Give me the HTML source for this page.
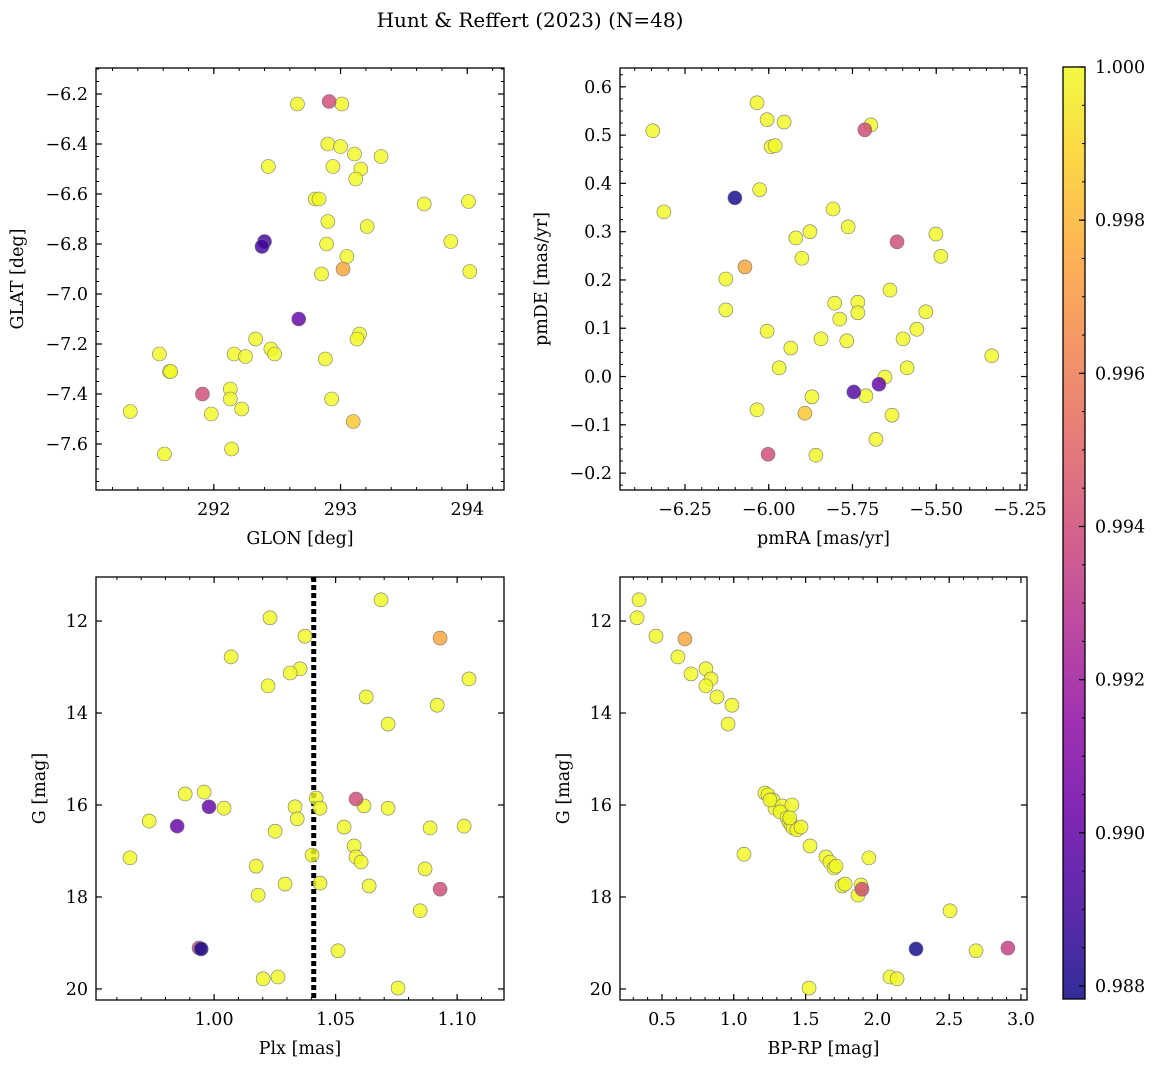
<!DOCTYPE html>
<html><head><meta charset="utf-8"><style>
body{margin:0;background:#fff;}
svg text{font-family:"DejaVu Serif","Liberation Serif",serif;fill:#000;}
</style></head><body>
<svg id="fig" width="1161" height="1067" xmlns="http://www.w3.org/2000/svg">
<text x="530" y="27" font-size="20" text-anchor="middle">Hunt &amp; Reffert (2023) (N=48)</text>
</svg>
<script>
// Panel 1: GLON / GLAT
const p1Glon=[292.66,292.91,293.01,292.90,293.00,293.11,293.32,292.43,292.94,293.16,293.12,292.80,292.83,293.66,294.01,292.90,293.21,292.40,292.38,292.89,293.87,293.05,292.85,293.02,294.02,292.67,292.33,293.15,293.13,291.57,292.16,292.45,292.25,292.48,292.88,291.65,291.66,292.13,291.91,292.13,292.93,291.98,292.22,291.34,293.10,292.14,291.61];
const p1Glat=[-6.24,-6.23,-6.24,-6.40,-6.41,-6.44,-6.45,-6.49,-6.49,-6.50,-6.54,-6.62,-6.62,-6.64,-6.63,-6.71,-6.73,-6.79,-6.81,-6.80,-6.79,-6.85,-6.92,-6.90,-6.91,-7.10,-7.18,-7.16,-7.18,-7.24,-7.24,-7.22,-7.25,-7.24,-7.26,-7.31,-7.31,-7.38,-7.40,-7.42,-7.42,-7.48,-7.46,-7.47,-7.51,-7.62,-7.64];
const p1Prob=[1,0.994,1,1,1,1,1,1,1,1,1,1,1,1,1,1,1,0.989,0.989,1,1,1,1,0.9975,1,0.990,1,1,1,1,1,1,1,1,1,1,1,1,0.994,1,1,1,1,1,0.9985,1,1];
// Panel 2: pmRA / pmDE
const p2Pmra=[-6.346,-6.313,-6.035,-6.005,-5.954,-5.993,-5.981,-5.713,-5.695,-6.101,-6.027,-5.808,-5.763,-5.877,-5.919,-5.501,-5.617,-5.901,-5.486,-6.071,-6.128,-5.638,-5.803,-5.734,-6.128,-5.531,-5.734,-5.788,-5.558,-6.005,-5.844,-5.767,-5.599,-5.934,-5.587,-5.969,-5.653,-5.671,-5.746,-5.710,-5.871,-6.035,-5.632,-5.892,-5.680,-5.859,-6.002,-5.334];
const p2Pmde=[0.509,0.341,0.567,0.532,0.527,0.476,0.478,0.511,0.521,0.370,0.387,0.347,0.310,0.300,0.287,0.295,0.279,0.245,0.249,0.227,0.202,0.179,0.152,0.154,0.138,0.134,0.132,0.119,0.098,0.094,0.078,0.074,0.078,0.059,0.018,0.018,-0.001,-0.016,-0.032,-0.040,-0.042,-0.069,-0.080,-0.076,-0.130,-0.163,-0.161,0.043];
const p2Prob=[1,1,1,1,1,1,1,0.994,1,0.988,1,1,1,1,1,1,0.994,1,1,0.9975,1,1,1,1,1,1,1,1,1,1,1,1,1,1,1,1,1,0.990,0.9895,1,1,1,1,0.9985,1,1,0.994,1];
// Panel 3: Plx / G
const p3Plx=[1.0687,1.0230,1.0930,1.0374,1.0070,1.1049,1.0354,1.0313,1.0222,1.0626,1.0918,1.0716,0.9881,0.9959,1.0420,1.0584,0.9979,1.0041,1.0333,1.0436,1.0617,1.0716,0.9733,1.0342,0.9848,1.0251,1.0535,1.0889,1.1029,1.0576,1.0584,1.0605,1.0403,0.9654,1.0173,1.0868,1.0638,1.0292,1.0436,1.0930,1.0181,1.0848,0.9938,0.9947,1.0510,1.0202,1.0263,1.0757];
const p3G=[11.54,11.93,12.37,12.33,12.78,13.26,13.04,13.13,13.41,13.65,13.83,14.24,15.76,15.72,15.85,15.87,16.04,16.07,16.04,16.07,16.02,16.07,16.35,16.30,16.46,16.57,16.48,16.50,16.46,16.89,17.13,17.24,17.09,17.15,17.33,17.39,17.76,17.72,17.70,17.83,17.96,18.30,19.11,19.13,19.17,19.78,19.74,19.98];
const p3Prob=[1,1,0.9975,1,1,1,1,1,1,1,1,1,1,1,1,0.994,0.990,1,1,1,1,1,1,1,0.990,1,1,1,1,1,1,1,1,1,1,1,1,1,1,0.994,1,1,0.9935,0.988,1,1,1,1];
const plxLine=1.041;
// Panel 4: BP-RP / G
const p4Color=[0.340,0.326,0.458,0.660,0.611,0.702,0.806,0.841,0.806,0.883,0.987,0.960,1.071,1.217,1.238,1.273,1.287,1.336,1.405,1.322,1.371,1.385,1.399,1.413,1.440,1.468,1.531,1.642,1.670,1.698,1.712,1.754,1.775,1.893,1.865,1.886,1.941,2.506,2.687,2.909,2.269,2.088,2.137,1.524,1.252,1.390];
const p4G=[11.54,11.93,12.33,12.39,12.78,13.15,13.04,13.26,13.41,13.65,13.83,14.24,17.07,15.74,15.78,15.89,16.07,16.02,16.00,16.15,16.28,16.37,16.43,16.50,16.54,16.48,16.89,17.13,17.24,17.37,17.33,17.76,17.72,17.83,17.96,17.74,17.15,18.30,19.17,19.11,19.13,19.74,19.78,19.98,15.89,16.28];
const p4Prob=[1,1,1,0.9975,1,1,1,1,1,1,1,1,1,1,1,1,1,1,1,1,1,1,1,1,1,1,1,1,1,1,1,1,1,0.994,1,1,1,1,1,0.9935,0.988,1,1,1,1,1];
// tick labels
const t1x=[292,293,294], t1y=[-6.2,-6.4,-6.6,-6.8,-7.0,-7.2,-7.4,-7.6];
const t2x=[-6.25,-6.00,-5.75,-5.50,-5.25], t2y=[0.6,0.5,0.4,0.3,0.2,0.1,0.0,-0.1,-0.2];
const t3x=[1.00,1.05,1.10], tG=[12,14,16,18,20];
const t4x=[0.5,1.0,1.5,2.0,2.5,3.0];
const tCb=[0.988,0.990,0.992,0.994,0.996,0.998,1.000];

const NS="http://www.w3.org/2000/svg";
const svg=document.getElementById('fig');
const FS=17.5;
function mk(tag,attrs,parent){const e=document.createElementNS(NS,tag);for(const k in attrs)e.setAttribute(k,attrs[k]);(parent||svg).appendChild(e);return e;}
const VMIN=0.98783,VMAX=1.0;
const stops=[[13,8,135],[65,4,157],[106,0,168],[143,13,164],[177,42,144],[204,71,120],[225,100,98],[242,132,75],[252,166,54],[252,206,37],[240,249,33]];
function plasma(t){t=Math.max(0,Math.min(1,t));const f=t*10,i=Math.min(9,Math.floor(f)),r=f-i;const a=stops[i],b=stops[i+1];return 'rgb('+a.map((v,k)=>Math.round(v+(b[k]-v)*r)).join(',')+')';}
function cmap(p){return plasma((p-VMIN)/(VMAX-VMIN));}

function panel(o){
  const g=mk('g',{});
  
  
  const sx=v=>o.L+(v-o.x0)/(o.x1-o.x0)*(o.R-o.L);
  const sy=v=>o.B-(v-o.y0)/(o.y1-o.y0)*(o.B-o.T);
  if(o.vline!==undefined){const l=mk('line',{x1:sx(o.vline),x2:sx(o.vline),y1:o.T,y2:o.B,stroke:'#000','stroke-width':5,'stroke-dasharray':'5,3'},g);
    
    }
  const ord=o.xs.map((v,i)=>i).sort((a,b)=>o.p[b]-o.p[a]);
  ord.forEach(i=>{const c=mk('circle',{cx:sx(o.xs[i]),cy:sy(o.ys[i]),r:7,fill:cmap(o.p[i]),'fill-opacity':0.82,stroke:'#777','stroke-width':0.6},g);
    
    });
  const fr=mk('rect',{x:o.L,y:o.T,width:o.R-o.L,height:o.B-o.T,fill:'none',stroke:'#000','stroke-width':1.3},g);
  
  
  const eps=1e-9;
  for(let v=Math.ceil(o.x0/o.mx-eps)*o.mx;v<=o.x1+eps;v+=o.mx){const X=sx(v);mk('line',{x1:X,x2:X,y1:o.B,y2:o.B-3,stroke:'#000'},g);mk('line',{x1:X,x2:X,y1:o.T,y2:o.T+3,stroke:'#000'},g);}
  for(let v=Math.ceil(o.y0/o.my-eps)*o.my;v<=o.y1+eps;v+=o.my){const Y=sy(v);mk('line',{x1:o.L,x2:o.L+3,y1:Y,y2:Y,stroke:'#000'},g);mk('line',{x1:o.R,x2:o.R-3,y1:Y,y2:Y,stroke:'#000'},g);}
  o.tx.forEach(v=>{const X=sx(v);mk('line',{x1:X,x2:X,y1:o.B,y2:o.B-6,stroke:'#000','stroke-width':1.2},g);mk('line',{x1:X,x2:X,y1:o.T,y2:o.T+6,stroke:'#000','stroke-width':1.2},g);
    const t=mk('text',{x:X,y:o.B+25,'font-size':FS,'text-anchor':'middle'},g);t.textContent=o.fx(v).replace('-','\u2212');
    
    });
  o.ty.forEach(v=>{const Y=sy(v);mk('line',{x1:o.L,x2:o.L+6,y1:Y,y2:Y,stroke:'#000','stroke-width':1.2},g);mk('line',{x1:o.R,x2:o.R-6,y1:Y,y2:Y,stroke:'#000','stroke-width':1.2},g);
    const t=mk('text',{x:o.L-8,y:Y+6,'font-size':FS,'text-anchor':'end'},g);t.textContent=o.fy(v).replace('-','\u2212');
    
    });
  const xl=mk('text',{x:(o.L+o.R)/2,y:o.B+54,'font-size':FS,'text-anchor':'middle'},g);xl.textContent=o.xlab;
  
  
  const yc=(o.T+o.B)/2;
  const yl=mk('text',{x:o.ylx,y:yc,'font-size':FS,'text-anchor':'middle',transform:'rotate(-90 '+o.ylx+' '+yc+')'},g);yl.textContent=o.ylab;
  
  
}
panel({name:'glon-glat-panel',L:96,R:504,T:68,B:490,x0:291.07,x1:294.29,y0:-7.784,y1:-6.096,xs:p1Glon,ys:p1Glat,p:p1Prob,tx:t1x,ty:t1y,mx:0.2,my:0.05,fx:v=>v.toFixed(0),fy:v=>v.toFixed(1),xlab:'GLON [deg]',ylab:'GLAT [deg]',ylx:23});
panel({name:'pm-panel',L:620,R:1027,T:68,B:490,x0:-6.444,x1:-5.229,y0:-0.235,y1:0.639,xs:p2Pmra,ys:p2Pmde,p:p2Prob,tx:t2x,ty:t2y,mx:0.05,my:0.025,fx:v=>v.toFixed(2),fy:v=>v.toFixed(1),xlab:'pmRA [mas/yr]',ylab:'pmDE [mas/yr]',ylx:547});
panel({name:'plx-g-panel',L:96,R:504,T:577,B:1000,x0:0.9514,x1:1.1193,y0:20.24,y1:11.043,xs:p3Plx,ys:p3G,p:p3Prob,tx:t3x,ty:tG,mx:0.01,my:0.5,fx:v=>v.toFixed(2),fy:v=>v.toFixed(0),xlab:'Plx [mas]',ylab:'G [mag]',ylx:45,vline:plxLine});
panel({name:'cmd-panel',L:620,R:1027,T:577,B:1000,x0:0.2075,x1:3.042,y0:20.24,y1:11.043,xs:p4Color,ys:p4G,p:p4Prob,tx:t4x,ty:tG,mx:0.1,my:0.5,fx:v=>v.toFixed(1),fy:v=>v.toFixed(0),xlab:'BP-RP [mag]',ylab:'G [mag]',ylx:569});
// colorbar
(function(){
  const L=1063,R=1085,T=67,B=999;
  const g=mk('g',{});
  
  
  const defs=mk('defs',{},g);const lg=mk('linearGradient',{id:'cbg',x1:0,y1:1,x2:0,y2:0},defs);
  for(let i=0;i<=20;i++)mk('stop',{offset:i/20,'stop-color':plasma(i/20),'stop-opacity':0.85},lg);
  mk('rect',{x:L,y:T,width:R-L,height:B-T,fill:'url(#cbg)',stroke:'#000','stroke-width':1.3},g);
  const sy=v=>B-(v-VMIN)/(VMAX-VMIN)*(B-T);
  for(let v=0.988;v<=1.00001;v+=0.0005){mk('line',{x1:R,x2:R-3,y1:sy(v),y2:sy(v),stroke:'#000'},g);}
  tCb.forEach(v=>{const Y=sy(v);mk('line',{x1:R,x2:R-6,y1:Y,y2:Y,stroke:'#000','stroke-width':1.2},g);
    const t=mk('text',{x:R+10,y:Y+6,'font-size':FS,},g);t.textContent=v.toFixed(3);
    
    });
})();
</script>
</body></html>
